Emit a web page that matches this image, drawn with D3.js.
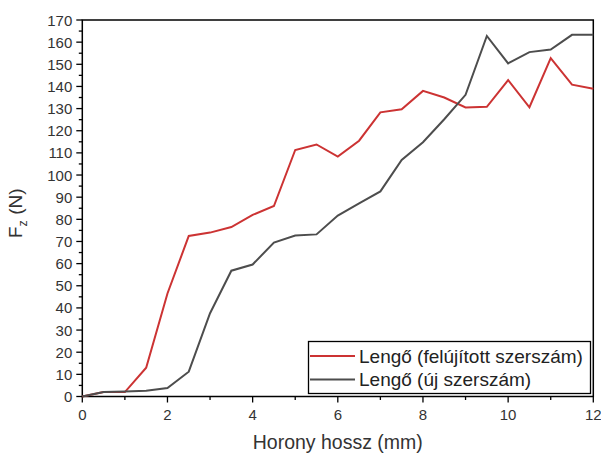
<!DOCTYPE html>
<html><head><meta charset="utf-8">
<script src="https://cdn.jsdelivr.net/npm/d3@7"></script>
<style>body{margin:0;background:#fff;} svg{display:block;font-family:"Liberation Sans",Arial,sans-serif;}</style>
</head><body><svg id="c" width="601" height="457"></svg>
<script>
const xs = [0,0.5,1,1.5,2,2.5,3,3.5,4,4.5,5,5.5,6,6.5,7,7.5,8,8.5,9,9.5,10,10.5,11,11.5,12];
const felujitott = [0,2,2,13,46.5,72.5,74,76.5,82,86,111.3,113.8,108.3,115.5,128.3,129.7,138,135,130.5,130.8,142.9,130.6,152.8,140.8,139];
const uj = [0,2,2.3,2.6,3.8,11.2,37.6,56.8,59.6,69.5,72.7,73.2,81.7,87.2,92.6,106.8,114.8,125.2,136.2,162.8,150.4,155.5,156.7,163.3,163.3];
const seriesNames = ["Lengő (felújított szerszám)","Lengő (új szerszám)"];
const colors = ["#cc3333","#4d4d4d"];
const xTicks = [0,2,4,6,8,10,12];
const yTicks = d3.range(0,171,10);

const svg = d3.select("#c");
const L=82.3,R=593.3,T=20,B=396.5;
const x = d3.scaleLinear().domain([0,12]).range([L,R]);
const y = d3.scaleLinear().domain([0,170]).range([B,T]);
const tc = "#333";

// frame
svg.append("rect").attr("x",L).attr("y",T).attr("width",R-L).attr("height",B-T)
  .attr("fill","none").attr("stroke","#000").attr("stroke-width",1.5);

// x axis
const gx = svg.append("g").attr("transform",`translate(0,${B})`);
gx.selectAll("line.maj").data(xTicks).join("line").attr("x1",d=>x(d)).attr("x2",d=>x(d)).attr("y1",0).attr("y2",6).attr("stroke","#000").attr("stroke-width",1.3);
gx.selectAll("line.min").data(d3.range(1,12,2)).join("line").attr("x1",d=>x(d)).attr("x2",d=>x(d)).attr("y1",0).attr("y2",3.5).attr("stroke","#000").attr("stroke-width",1.3);
gx.selectAll("text").data(xTicks).join("text").attr("x",d=>x(d)).attr("y",23).attr("text-anchor","middle")
  .attr("font-size",15).attr("fill",tc).text(d=>d);

// y axis
const gy = svg.append("g").attr("transform",`translate(${L},0)`);
gy.selectAll("line.maj").data(yTicks).join("line").attr("y1",d=>y(d)).attr("y2",d=>y(d)).attr("x1",0).attr("x2",-6).attr("stroke","#000").attr("stroke-width",1.3);
gy.selectAll("line.min").data(d3.range(5,170,10)).join("line").attr("y1",d=>y(d)).attr("y2",d=>y(d)).attr("x1",0).attr("x2",-3.5).attr("stroke","#000").attr("stroke-width",1.3);
gy.selectAll("text").data(yTicks).join("text").attr("x",-10).attr("y",d=>y(d)+5.5).attr("text-anchor","end")
  .attr("font-size",15).attr("fill",tc).text(d=>d);

// axis titles
svg.append("text").attr("x",(L+R)/2).attr("y",449).attr("text-anchor","middle").attr("font-size",19.5).attr("fill",tc).text("Horony hossz (mm)");
const yt = svg.append("text").attr("transform",`translate(22,${(T+B)/2+5}) rotate(-90)`).attr("text-anchor","middle").attr("font-size",19).attr("fill",tc);
yt.append("tspan").text("F");
yt.append("tspan").attr("font-size",12.5).attr("dy",5).text("z");
yt.append("tspan").attr("dy",-5).text(" (N)");

// lines
const line = d3.line().x((d,i)=>x(xs[i])).y(d=>y(d));
[felujitott,uj].forEach((s,i)=>{
  svg.append("path").datum(s).attr("d",line).attr("fill","none").attr("stroke",colors[i]).attr("stroke-width",2).attr("stroke-linejoin","miter");
});

// legend
const lg = svg.append("g");
lg.append("rect").attr("x",308.5).attr("y",341.5).attr("width",282).attr("height",52).attr("fill","#fff").attr("stroke","#000").attr("stroke-width",1.3);
seriesNames.forEach((n,i)=>{
  const yy = 356 + i*23.5;
  lg.append("line").attr("x1",310).attr("x2",355).attr("y1",yy).attr("y2",yy).attr("stroke",colors[i]).attr("stroke-width",2);
  lg.append("text").attr("x",359).attr("y",yy+6.5).attr("font-size",19).attr("fill","#222").text(n);
});
</script></body></html>
